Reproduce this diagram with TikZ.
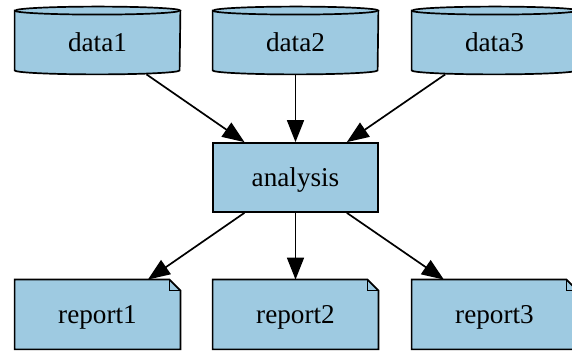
\documentclass[tikz,border=0pt]{standalone}
\usepackage{fontspec}
\setmainfont{Liberation Serif}
\usepackage{tikz}
\usetikzlibrary{arrows.meta}
\definecolor{boxblue}{RGB}{158,202,225}

\tikzset{
  box/.style={rectangle,minimum width=82.5pt,minimum height=34.5pt,inner sep=0pt,
    font=\fontsize{13.6}{15}\selectfont},
  store/.style={box,minimum height=33.5pt},
  flow/.style={line width=0.85pt,-{Triangle[length=11pt,width=8.5pt]}},
  outline/.style={line width=0.85pt,fill=boxblue}
}

\begin{document}
\begin{tikzpicture}[x=0.5pt,y=0.5pt]
        \useasboundingbox (0,0) rectangle (572,351);
        \clip (0,0) rectangle (572,351);
        % data stores
        \foreach \n/\x in {data1/97.5,data2/295.5,data3/494.5} {
          \node[store] (\n) at (\x,310.5) {};
          \draw[outline] ([yshift=-2pt]\n.north west) -- ([yshift=2pt]\n.south west)
            arc[start angle=180,end angle=360,x radius=41.25pt,y radius=2pt]
            -- ([yshift=-2pt]\n.north east)
            arc[start angle=0,end angle=180,x radius=41.25pt,y radius=2pt] -- cycle;
          \draw[line width=0.85pt] ([yshift=-2pt]\n.north west)
            arc[start angle=180,end angle=360,x radius=41.25pt,y radius=2pt];
          \node[box,minimum height=0pt] at ([yshift=-1pt]\n.center) {\n};
        }
        % analysis
        \node[box,draw,line width=0.85pt,fill=boxblue] (analysis) at (295.5,173.5) {};
        \node[box] at ([yshift=-1.5pt]analysis.center) {analysis};
        % reports
        \foreach \n/\x in {report1/97.5,report2/295.5,report3/494.5} {
          \node[box] (\n) at (\x,36.5) {};
          \draw[outline] (\n.north west) -- ([xshift=-5.5pt]\n.north east)
            -- ([yshift=-5.5pt]\n.north east) -- (\n.south east) -- (\n.south west) -- cycle;
          \draw[line width=0.85pt] ([xshift=-5.5pt]\n.north east)
            -- ([xshift=-5.5pt,yshift=-5.5pt]\n.north east) -- ([yshift=-5.5pt]\n.north east);
          \node[box] at ([yshift=-1.5pt]\n.center) {\n};
        }
        % edges
        \draw[flow] (data1) -- (analysis);
        \draw[flow] (data2) -- (analysis);
        \draw[flow] (data3) -- (analysis);
        \draw[flow] (analysis) -- (report1);
        \draw[flow] (analysis) -- (report2);
        \draw[flow] (analysis) -- (report3);
\end{tikzpicture}
\end{document}
